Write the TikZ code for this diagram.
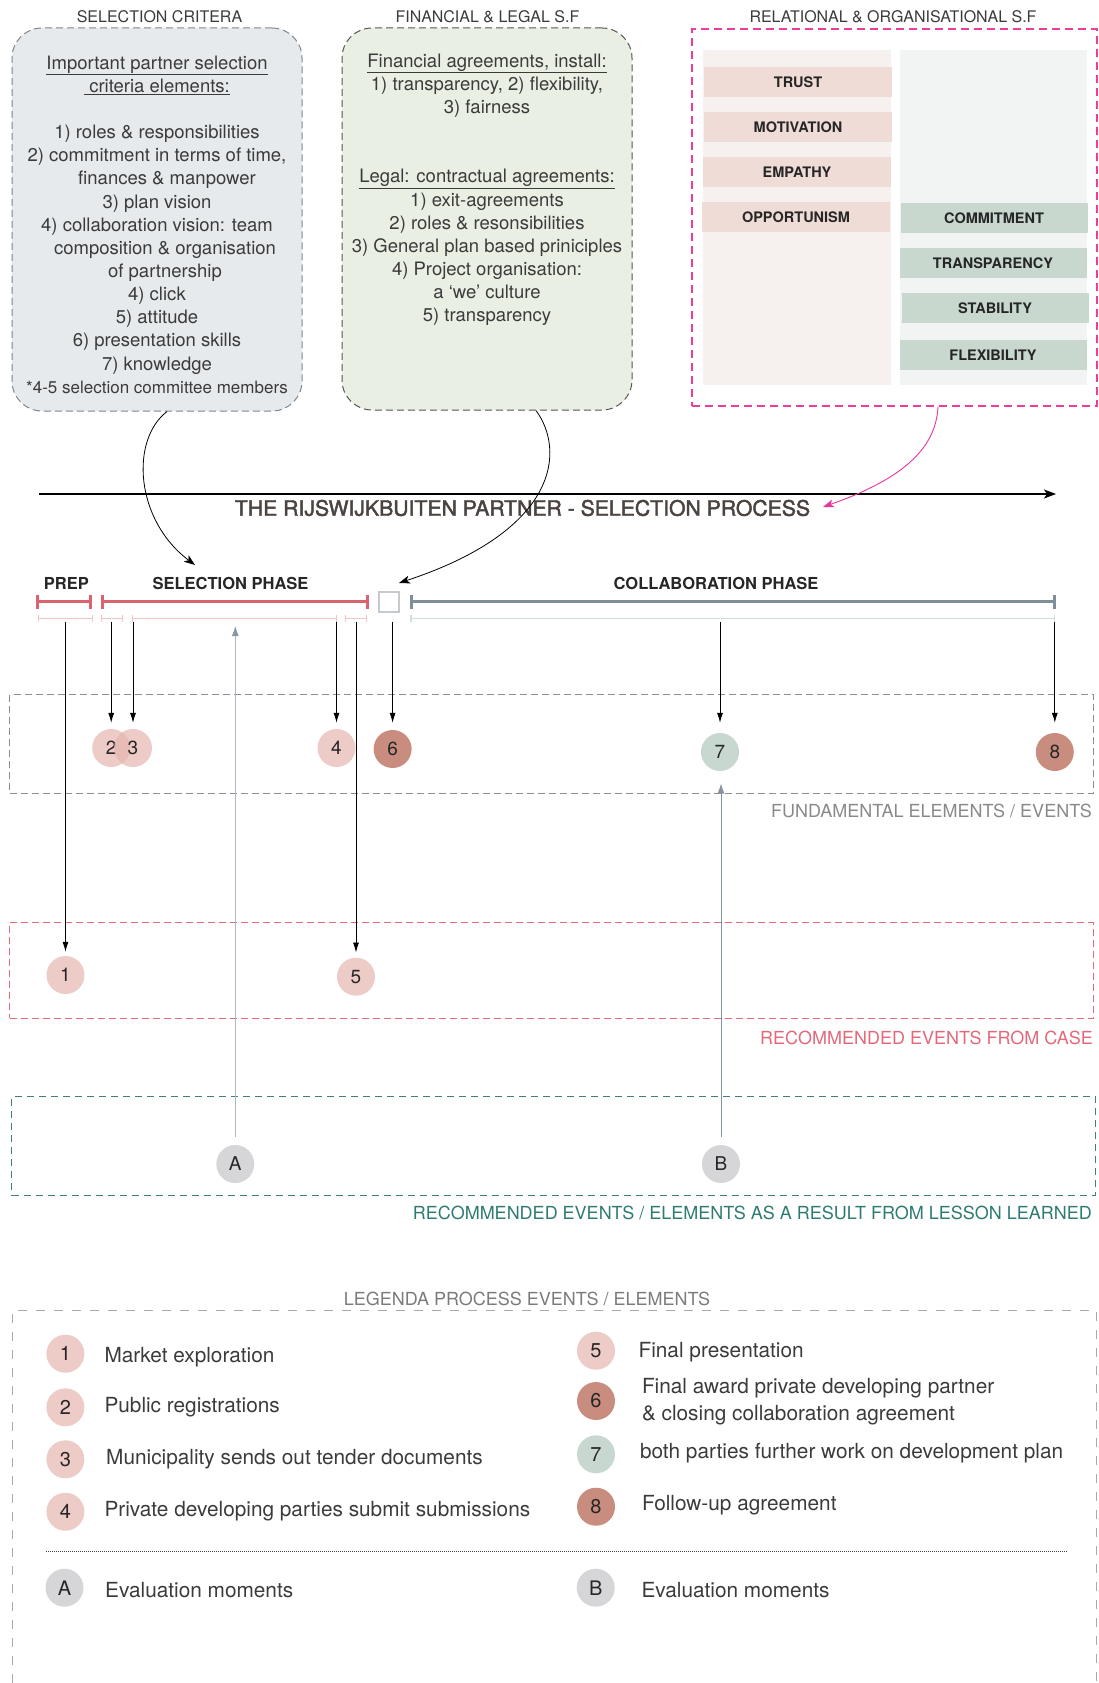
\documentclass[tikz,border=0pt]{standalone}
\usepackage{fontspec}
\setmainfont{TeX Gyre Heros}
\usetikzlibrary{arrows.meta}

% colours
\definecolor{ink}{HTML}{3B3B3B}
\definecolor{inkdark}{HTML}{262626}
\definecolor{titleink}{HTML}{4A4340}
\definecolor{critfill}{HTML}{E6EAEC}
\definecolor{critline}{HTML}{7D868C}
\definecolor{finfill}{HTML}{EAEFE3}
\definecolor{finline}{HTML}{555555}
\definecolor{relline}{HTML}{EC3C9E}
\definecolor{relpinkbg}{HTML}{F6F0EE}
\definecolor{relpinkbar}{HTML}{F0DCD6}
\definecolor{relgreenbg}{HTML}{F1F4F2}
\definecolor{relgreenbar}{HTML}{C8D8CF}
\definecolor{phasered}{HTML}{D96470}
\definecolor{phaseslate}{HTML}{7E8F9A}
\definecolor{subpink}{HTML}{F3C5C1}
\definecolor{subgreen}{HTML}{CFDFD8}
\definecolor{squareline}{HTML}{C6C9CD}
\definecolor{evpinkdeep}{HTML}{E5B5AF}
\definecolor{evrose}{HTML}{C98D7F}
\definecolor{evsage}{HTML}{C8D8D0}
\definecolor{evgrey}{HTML}{D6D6D8}
\definecolor{fundline}{HTML}{8E8E8E}
\definecolor{fundtext}{HTML}{898989}
\definecolor{recline}{HTML}{E36B7B}
\definecolor{rectext}{HTML}{E4687A}
\definecolor{lessline}{HTML}{3F8079}
\definecolor{lesstext}{HTML}{2E7B72}
\definecolor{legline}{HTML}{A9A9A9}
\definecolor{legtitle}{HTML}{7B7B7B}
\definecolor{evalA}{HTML}{A9B8C4}
\definecolor{evalAhead}{HTML}{8797A4}
\definecolor{evalB}{HTML}{8393A0}
\definecolor{curvepink}{HTML}{E8359A}

% type sizes
\newcommand\bxfont{\fontsize{18.5pt}{23.15pt}\selectfont}
\newcommand\hdfont{\fontsize{16pt}{19pt}\selectfont}
\newcommand\lblfont{\fontsize{18pt}{21pt}\selectfont}
\newcommand\lgfont{\fontsize{20.8pt}{26.7pt}\selectfont}
\newcommand\phfont{\fontsize{16.5pt}{19pt}\selectfont\bfseries}
\newcommand\tagfont{\fontsize{14.5pt}{16pt}\selectfont\bfseries}
\newcommand\numfont{\fontsize{19pt}{21pt}\selectfont}
\newcommand\lgnumfont{\fontsize{20pt}{22pt}\selectfont}
\newcommand\ttlfont{\fontsize{21.2pt}{24pt}\selectfont\addfontfeatures{FakeBold=2}}

% a span with end ticks: style, x1, x2, y, half tick height
\newcommand\spanbar[5]{%
  \draw[#1] (#2,#4) -- (#3,#4);
  \draw[#1] (#2,#4-#5) -- (#2,#4+#5) (#3,#4-#5) -- (#3,#4+#5);}

\begin{document}
\begin{tikzpicture}[x=1pt,y=-1pt,
  every node/.style={inner sep=0pt, text=ink},
  head/.style={font=\hdfont},
  sfbox/.style={rounded corners=30pt, dash pattern=on 7pt off 4pt, line width=1pt, minimum width=290pt},
  tagbar/.style={minimum width=188pt, minimum height=30pt, font=\tagfont, text=inkdark},
  phase/.style={font=\phfont, text=inkdark},
  ev/.style={circle, minimum size=38pt, font=\numfont, text=inkdark, text opacity=1},
  evp/.style={ev, fill=evpinkdeep, fill opacity=0.7},
  evr/.style={ev, fill=evrose},
  evs/.style={ev, fill=evsage},
  evg/.style={ev, fill=evgrey},
  lgp/.style={evp, font=\lgnumfont},
  lgr/.style={evr, font=\lgnumfont},
  lgs/.style={evs, font=\lgnumfont},
  lgg/.style={evg, font=\lgnumfont},
  lgtext/.style={anchor=west, font=\lgfont, text=ink, align=left},
  down/.style={draw=black, line width=0.8pt, -{Latex[length=10pt,width=6pt]}},
  curv/.style={draw=black, line width=0.8pt, -{Stealth[length=11pt,width=8pt,inset=3pt]}},
  zone/.style={dash pattern=on 7pt off 4pt, line width=1.1pt},
  redbar/.style={draw=phasered, line width=3pt},
  slatebar/.style={draw=phaseslate, line width=3pt},
  pinksub/.style={draw=subpink, line width=1.5pt},
  greensub/.style={draw=subgreen, line width=1.5pt}
]
\useasboundingbox (0,0) rectangle (1099,1683);

% ---------- success factor boxes ----------
\node[head] (critT) at (159.5,17) {SELECTION CRITERA};
\node[head] (finT) at (487.5,17) {FINANCIAL \& LEGAL S.F};
\node[head] (relT) at (893,17) {RELATIONAL \& ORGANISATIONAL S.F};

\node[sfbox, draw=critline, fill=critfill, minimum height=383pt] (crit) at (157,219.5) {};
\node[sfbox, draw=finline, fill=finfill, minimum height=382pt] (fin) at (487,219) {};

\node[anchor=north, align=center, font=\bxfont] (critText) at (157,55.5) {%
\underline{Important partner selection}\\
\underline{\ criteria elements:}\\[23.15pt]
1) roles \& responsibilities\\
2) commitment in terms of time,\\
\hspace*{20pt}finances \& manpower\\
3) plan vision\\
4) collaboration vision: team\\
\hspace*{16pt}composition \& organisation\\
\hspace*{16pt}of partnership\\
4) click\\
5) attitude\\
6) presentation skills\\
7) knowledge\\
{\fontsize{17pt}{23.15pt}\selectfont *4-5 selection committee members}};

\node[anchor=north, align=center, font=\bxfont] (finText) at (487,53.5) {%
\underline{Financial agreements, install:}\\
1) transparency, 2) flexibility,\\
3) fairness\\[46.3pt]
\underline{Legal: contractual agreements:}\\
1) exit-agreements\\
2) roles \& resonsibilities\\
3) General plan based priniciples\\
4) Project organisation:\\
a ‘we’ culture\\
5) transparency};

\node[draw=relline, dash pattern=on 8pt off 5pt, line width=1.2pt,
      minimum width=405pt, minimum height=377pt] (rel) at (894.5,217.5) {};
\fill[relpinkbg] (703,50) rectangle (891,385);
\fill[relgreenbg] (900,50) rectangle (1087,385);
\node[tagbar, fill=relpinkbar] (trust) at (798,82) {TRUST};
\node[tagbar, fill=relpinkbar] (motiv) at (798,127) {MOTIVATION};
\node[tagbar, fill=relpinkbar] (empathy) at (797,172) {EMPATHY};
\node[tagbar, fill=relpinkbar] (opport) at (796,217) {OPPORTUNISM};
\node[tagbar, minimum width=187pt, fill=relgreenbar] (commit) at (994,218) {COMMITMENT};
\node[tagbar, minimum width=187pt, fill=relgreenbar] (transp) at (993,263) {TRANSPARENCY};
\node[tagbar, minimum width=187pt, fill=relgreenbar] (stab) at (995,308) {STABILITY};
\node[tagbar, minimum width=187pt, fill=relgreenbar] (flex) at (993,355) {FLEXIBILITY};

% ---------- process time line ----------
\coordinate (lineStart) at (38.6,494);
\coordinate (lineEnd) at (1056,494);
\draw[line width=1.2pt, -{Stealth[length=12pt,width=9pt,inset=3pt]}] (lineStart) -- (lineEnd);
\node[font=\ttlfont, text=titleink] (procT) at (522.5,508) {THE RIJSWIJKBUITEN PARTNER - SELECTION PROCESS};

\coordinate (critTip) at (195,565);
\coordinate (finTip) at (399,583);
\coordinate (relTip) at (823,507);
\draw[curv] ([xshift=10pt]crit.south) .. controls (130,440) and (135,520) .. (critTip);
\draw[curv] ([xshift=49pt]fin.south) .. controls (565,450) and (560,530) .. (finTip);
\draw[curv, draw=curvepink, line width=0.9pt] ([xshift=43.5pt]rel.south) .. controls (936,450) and (900,480) .. (relTip);

% phases
\node[phase] (prep) at (66.3,583) {PREP};
\node[phase] (selph) at (230.5,583) {SELECTION PHASE};
\node[phase] (colph) at (716,583) {COLLABORATION PHASE};
\spanbar{redbar}{37.7}{90.7}{601.7}{7}
\spanbar{redbar}{102.3}{367.7}{601.7}{7}
\spanbar{slatebar}{411.2}{1054.7}{601.7}{7}
\node[draw=squareline, line width=2pt, minimum size=20pt] (award) at (389.3,602) {};

\spanbar{pinksub}{38.3}{92.3}{618.3}{3.5}
\spanbar{pinksub}{101.7}{122.3}{618.3}{3.5}
\spanbar{pinksub}{132.3}{336.7}{618.3}{3.5}
\spanbar{pinksub}{345.7}{366.7}{618.3}{3.5}
\spanbar{greensub}{411.2}{1054.7}{618.3}{3.5}

% ---------- event zones ----------
\node[zone, draw=fundline, minimum width=1083.6pt, minimum height=98.6pt] (fund) at (551.6,744) {};
\node[anchor=east, font=\lblfont, text=fundtext] (fundL) at (1092,811) {FUNDAMENTAL ELEMENTS / EVENTS};
\node[zone, draw=recline, minimum width=1083.6pt, minimum height=95.3pt] (rec) at (551.6,970.4) {};
\node[anchor=east, font=\lblfont, text=rectext] (recL) at (1093,1038) {RECOMMENDED EVENTS FROM CASE};
\node[zone, draw=lessline, dash pattern=on 7pt off 5pt, minimum width=1083.6pt, minimum height=99pt] (less) at (553.7,1146.2) {};
\node[anchor=east, font=\lblfont, text=lesstext] (lessL) at (1092,1213) {RECOMMENDED EVENTS / ELEMENTS AS A RESULT FROM LESSON LEARNED};

% events
\node[evp] (e2) at (111.2,748) {2};
\node[evp] (e3) at (133,748) {3};
\node[evp] (e4) at (336.5,748) {4};
\node[evr] (e6) at (392.6,749) {6};
\node[evs] (e7) at (720,752) {7};
\node[evr] (e8) at (1054.8,752) {8};
\node[evp] (e1) at (65.5,975) {1};
\node[evp] (e5) at (356,976.7) {5};
\node[evg] (eA) at (235.3,1164) {A};
\node[evg] (eB) at (721,1164) {B};

\coordinate (s1) at (65.5,621.7);
\coordinate (s2) at (111.2,621.7);
\coordinate (s3) at (133,621.7);
\coordinate (s4) at (336.5,621.7);
\coordinate (s5) at (356,621.7);
\coordinate (s6) at (392.6,621.7);
\coordinate (s7) at (720,621.7);
\coordinate (s8) at (1054.8,621.7);
\draw[down, shorten >=4pt] (s1) -- (e1);
\draw[down, shorten >=6pt] (s2) -- (e2);
\draw[down, shorten >=6pt] (s3) -- (e3);
\draw[down, shorten >=6pt] (s4) -- (e4);
\draw[down, shorten >=5pt] (s5) -- (e5);
\draw[down, shorten >=7pt] (s6) -- (e6);
\draw[down, shorten >=10pt] (s7) -- (e7);
\draw[down, shorten >=10pt] (s8) -- (e8);

\coordinate (tA) at (235.3,626);
\coordinate (tB) at (721,783.5);
\draw[draw=evalA, line width=1pt, shorten <=8pt, -{Latex[length=10pt,width=7pt,color=evalAhead]}] (eA) -- (tA);
\draw[draw=evalB, line width=1pt, shorten <=8pt, -{Latex[length=10pt,width=7pt]}] (eB) -- (tB);

% ---------- legend ----------
\draw[draw=legline, dash pattern=on 9pt off 9pt, line width=1pt] (12,1683) -- (12,1310.7) -- (1096,1310.7) -- (1096,1683);
\node[font=\lblfont, text=legtitle] (legT) at (527,1299) {LEGENDA PROCESS EVENTS / ELEMENTS};

\node[lgp] (l1) at (65.4,1353.7) {1};
\node[lgp] (l2) at (65.4,1407.3) {2};
\node[lgp] (l3) at (65.4,1459.3) {3};
\node[lgp] (l4) at (65.4,1511.7) {4};
\node[lgtext] (t1) at (104.3,1356.7) {Market exploration};
\node[lgtext] (t2) at (104.3,1407.3) {Public registrations};
\node[lgtext] (t3) at (106,1459.3) {Municipality sends out tender documents};
\node[lgtext] (t4) at (104.3,1510.7) {Private developing parties submit submissions};

\node[lgp] (l5) at (596,1350.7) {5};
\node[lgr] (l6) at (596,1401) {6};
\node[lgs] (l7) at (596,1454.3) {7};
\node[lgr] (l8) at (596,1506.7) {8};
\node[lgtext] (t5) at (638.4,1351.7) {Final presentation};
\node[lgtext] (t6) at (641.8,1401.7) {Final award private developing partner\\\& closing collaboration agreement};
\node[lgtext] (t7) at (639.8,1453.3) {both parties further work on development plan};
\node[lgtext] (t8) at (641.8,1505) {Follow-up agreement};

\coordinate (sepL) at (46,1551.7);
\coordinate (sepR) at (1068,1551.7);
\draw[draw=ink, dash pattern=on 1pt off 1pt, line width=0.7pt] (sepL) -- (sepR);

\node[lgg] (lA) at (64.5,1587.7) {A};
\node[lgg] (lB) at (595.7,1587.7) {B};
\node[lgtext] (tA) at (105,1590) {Evaluation moments};
\node[lgtext] (tB) at (641.3,1590) {Evaluation moments};

\end{tikzpicture}
\end{document}
